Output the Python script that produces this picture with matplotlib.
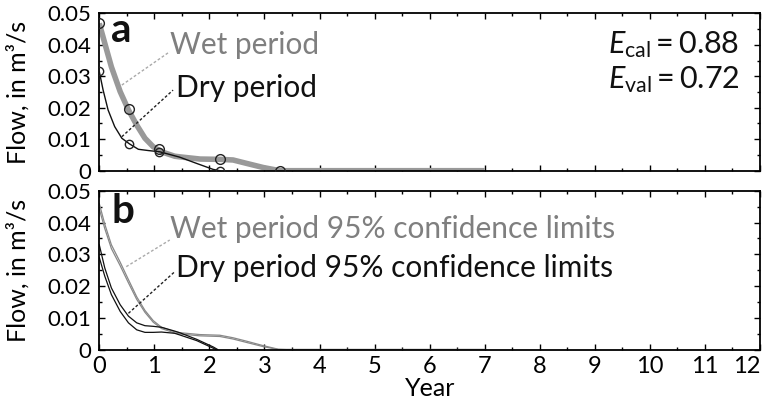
import numpy as np
import matplotlib
matplotlib.use("Agg")
import matplotlib.pyplot as plt
from matplotlib.ticker import MultipleLocator

FONT = "Lato"
plt.rcParams['font.family'] = [FONT, 'DejaVu Sans']
plt.rcParams['mathtext.fontset'] = 'custom'
plt.rcParams['mathtext.rm'] = FONT
plt.rcParams['mathtext.it'] = FONT + ':italic'

# panel a - observed points
wet_obs_x = [0, 0.545, 1.08, 2.19, 3.28]
wet_obs_y = [0.0470, 0.0195, 0.0068, 0.0037, 0.0]
dry_obs_x = [0, 0.545, 1.08, 2.19]
dry_obs_y = [0.0317, 0.0085, 0.0060, 0.0]

# panel a - fitted curves (traced)
wet_x = [0, 0.10, 0.22, 0.38, 0.53, 0.68, 0.83, 0.98, 1.13, 1.37, 1.46, 1.83, 2.19, 2.43, 2.68, 2.98, 3.28, 7.0]
wet_y = [0.0468, 0.0405, 0.0330, 0.0251, 0.0193, 0.0145, 0.0103, 0.0076, 0.0060, 0.0046, 0.0044, 0.0037, 0.0036, 0.0034, 0.0023, 0.0010, 0.0, 0.0]
dry_x = [0, 0.07, 0.16, 0.28, 0.41, 0.55, 0.71, 0.89, 1.10, 1.46, 1.77, 2.07, 2.19]
dry_y = [0.0315, 0.0256, 0.0193, 0.0140, 0.0103, 0.0085, 0.0068, 0.0064, 0.0060, 0.0043, 0.0023, 0.0004, 0.0]

# panel b - 95% confidence limits
wetb_x = [0, 0.10, 0.22, 0.38, 0.53, 0.68, 0.83, 0.98, 1.13, 1.37, 1.46, 1.83, 2.19, 2.43, 2.68, 2.98, 3.25, 3.4, 7.0]
wet_up = [0.0460, 0.0395, 0.0330, 0.0275, 0.0220, 0.0166, 0.0123, 0.0091, 0.0070, 0.0056, 0.0053, 0.0047, 0.0045, 0.0037, 0.0026, 0.0012, 0.0001, 0.0, 0.0]
wet_lo = [0.0443, 0.0381, 0.0318, 0.0264, 0.0210, 0.0158, 0.0117, 0.0086, 0.0066, 0.0052, 0.0049, 0.0043, 0.0041, 0.0033, 0.0022, 0.0009, 0.0, 0.0, 0.0]
dryb_up_x = [0, 0.10, 0.22, 0.38, 0.53, 0.68, 0.83, 0.98, 1.13, 1.37, 1.46, 1.77, 2.07, 2.15]
dry_up = [0.0330, 0.0257, 0.0194, 0.0141, 0.0105, 0.0084, 0.0075, 0.0073, 0.0070, 0.0058, 0.0053, 0.0032, 0.0008, 0.0]
dryb_lo_x = [0, 0.10, 0.22, 0.38, 0.53, 0.68, 0.83, 0.98, 1.13, 1.37, 1.46, 1.77, 2.07, 2.12]
dry_lo = [0.0290, 0.0231, 0.0173, 0.0120, 0.0084, 0.0062, 0.0054, 0.0054, 0.0055, 0.0051, 0.0046, 0.0028, 0.0004, 0.0]

years = list(range(13))
year_labels = [str(y) for y in years]
flow_ticks = [0, 0.01, 0.02, 0.03, 0.04, 0.05]
flow_labels = ['0', '0.01', '0.02', '0.03', '0.04', '0.05']

GRAY = '#999999'
TXTGRAY = '#7f7f7f'

fig = plt.figure(figsize=(7.63, 4.04), dpi=100)
ax1 = fig.add_axes([0.1301, 0.5775, 0.866, 0.3896])
ax2 = fig.add_axes([0.1301, 0.1349, 0.866, 0.3928])

for ax in (ax1, ax2):
    ax.set_xlim(0, 12)
    ax.set_ylim(0, 0.05)
    ax.set_xticks(years, year_labels)
    ax.xaxis.set_minor_locator(MultipleLocator(0.5))
    ax.set_yticks(flow_ticks, flow_labels)
    ax.yaxis.set_minor_locator(MultipleLocator(0.005))
    ax.tick_params(which='both', direction='in', top=True, right=True, width=1)
    ax.tick_params(which='major', length=4)
    ax.tick_params(which='minor', length=2)
    ax.tick_params(axis='y', labelsize=16, pad=6)
    ax.tick_params(axis='x', labelsize=17, pad=5)
    for s in ax.spines.values():
        s.set_linewidth(1.3)
    ax.set_ylabel('Flow, in m³/s', fontsize=18)
    ax.yaxis.set_label_coords(-0.105, 0.5)

ax1.tick_params(axis='x', labelbottom=False)
# last year label sits left of its tick, as in the original
ax2.xaxis.get_major_ticks()[-1].label1.set_horizontalalignment('right')

# panel a
ax1.plot(wet_x, wet_y, color=GRAY, lw=4, solid_capstyle='butt', zorder=2)
ax1.plot(dry_x, dry_y, color='#111111', lw=1, zorder=3)
ax1.plot(wet_obs_x, wet_obs_y, 'o', ms=7, mfc='none', mec='#222222', mew=1, zorder=4)
ax1.plot(dry_obs_x, dry_obs_y, 'o', ms=6, mfc='none', mec='#222222', mew=1, zorder=4)
ax1.plot([0.41, 1.28], [0.0272, 0.0378], color='#aaaaaa', lw=1, ls=(0, (2, 1.5)))
ax1.plot([0.41, 1.34], [0.0108, 0.0256], color='#222222', lw=1, ls=(0, (2, 1.5)))
ax1.text(0.22, 0.0445, 'a', fontsize=29, fontweight='bold', va='center', ha='left', color='#111111')
ax1.text(1.28, 0.0371, 'Wet period', fontsize=21.5, color=TXTGRAY, va='baseline')
ax1.text(1.39, 0.0235, 'Dry period', fontsize=21.5, color='#111111', va='baseline')
ax1.text(11.63, 0.0373, r'$E_{\mathrm{cal}} = 0.88$', fontsize=22, ha='right', va='baseline', color='#111111')
ax1.text(11.63, 0.0263, r'$E_{\mathrm{val}} = 0.72$', fontsize=22, ha='right', va='baseline', color='#111111')

# panel b
ax2.plot(wetb_x, wet_up, color='#888888', lw=0.9)
ax2.plot(wetb_x, wet_lo, color='#888888', lw=0.9)
ax2.plot(dryb_up_x, dry_up, color='#111111', lw=0.9)
ax2.plot(dryb_lo_x, dry_lo, color='#111111', lw=0.9)
ax2.plot([0.49, 1.28], [0.0261, 0.0345], color='#aaaaaa', lw=1, ls=(0, (2, 1.5)))
ax2.plot([0.53, 1.37], [0.0114, 0.0245], color='#222222', lw=1, ls=(0, (2, 1.5)))
ax2.text(0.22, 0.0435, 'b', fontsize=29, fontweight='bold', va='center', ha='left', color='#111111')
ax2.text(1.28, 0.0352, 'Wet period 95% confidence limits', fontsize=21.5, color=TXTGRAY, va='baseline')
ax2.text(1.39, 0.0230, 'Dry period 95% confidence limits', fontsize=21.5, color='#111111', va='baseline')
ax2.set_xlabel('Year', fontsize=18, labelpad=0)

fig.savefig('out.png', dpi=100)
